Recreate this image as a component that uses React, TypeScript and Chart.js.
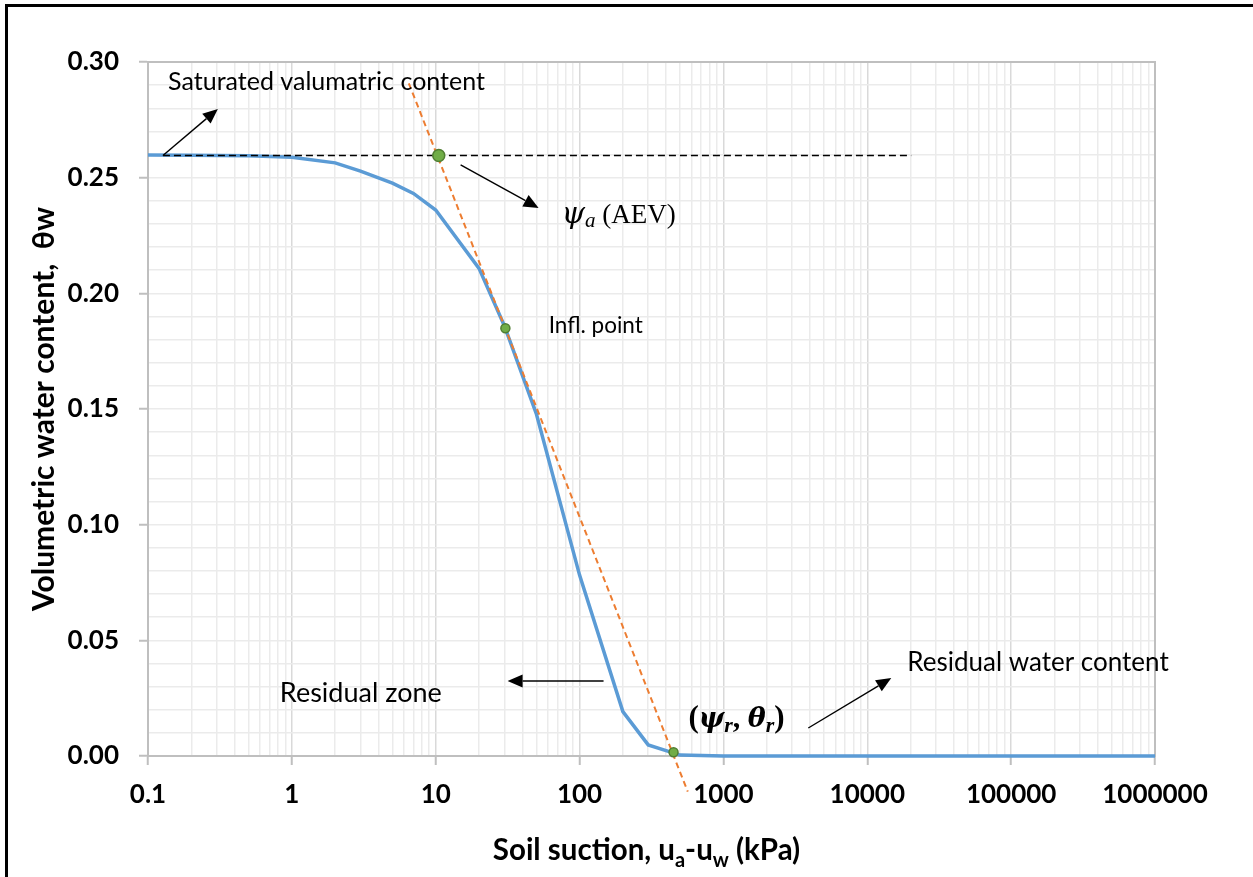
import React, { useEffect, useRef } from "react";
import { Chart, registerables } from "chart.js";

Chart.register(...registerables);

// ---------------- data ----------------
const suction = [0.1, 0.2, 0.5, 1, 2, 3, 5, 7, 10, 20, 30, 50, 100, 200, 300, 500, 1000, 10000, 100000, 1000000];
const waterContent = [0.2598, 0.2597, 0.2595, 0.2588, 0.2564, 0.2528, 0.2476, 0.2432, 0.236, 0.2108, 0.186, 0.148, 0.0782, 0.0192, 0.0048, 0.0004, 0, 0, 0, 0];

const tangentSuction = [6.5, 565];
const tangentWater = [0.2908, -0.0154];

const aevLineSuction = [0.127, 20200];
const aevLineWater = [0.2596, 0.2596];

const keyPointSuction = [10.5, 30.5, 450];
const keyPointWater = [0.2596, 0.1849, 0.0016];

const xMajorTicks = [0.1, 1, 10, 100, 1000, 10000, 100000, 1000000];
const xTickLabels = ["0.1", "1", "10", "100", "1000", "10000", "100000", "1000000"];
const yTickLabels = ["0.00", "0.05", "0.10", "0.15", "0.20", "0.25", "0.30"];

const xTitleParts = [
  { t: "Soil suction, u", sub: false },
  { t: "a", sub: true },
  { t: "-u", sub: false },
  { t: "w", sub: true },
  { t: " (kPa)", sub: false },
];
const yTitle = "Volumetric water content,  \u03B8w";

// ---------------- styles ----------------
const SANS = 'Lato, "Noto Sans", "DejaVu Sans", sans-serif';
const GREEK = '"DejaVu Serif", serif';
const SERIF = '"Liberation Serif", "DejaVu Serif", serif';

type Part = { t: string; font: string; dy?: number };
type Note = { parts: Part[]; x: number; y: number };
type Arrow = { x1: number; y1: number; x2: number; y2: number };

const notes: Note[] = [
  { parts: [{ t: "Saturated valumatric content", font: `25px ${SANS}` }], x: 0.138, y: 0.2879 },
  { parts: [{ t: "Infl. point", font: `22.5px ${SANS}` }], x: 61, y: 0.1829 },
  { parts: [{ t: "Residual zone", font: `27px ${SANS}` }], x: 0.825, y: 0.0235 },
  { parts: [{ t: "Residual water content", font: `26px ${SANS}` }], x: 18970, y: 0.0369 },
  {
    parts: [
      { t: "\u03C8", font: `italic 30px ${GREEK}` },
      { t: "a", font: `italic 21px ${SERIF}`, dy: 4 },
      { t: " (AEV)", font: `27px ${SERIF}` },
    ],
    x: 75,
    y: 0.2304,
  },
  {
    parts: [
      { t: "(", font: `bold 31px ${SERIF}` },
      { t: "\u03C8", font: `bold italic 27px ${GREEK}` },
      { t: "r", font: `bold italic 22px ${SERIF}`, dy: 5 },
      { t: ", ", font: `bold 30px ${SERIF}` },
      { t: "\u03B8", font: `bold italic 27px ${GREEK}` },
      { t: "r", font: `bold italic 22px ${SERIF}`, dy: 5 },
      { t: ")", font: `bold 31px ${SERIF}` },
    ],
    x: 571,
    y: 0.0125,
  },
];

const arrows: Arrow[] = [
  { x1: 0.127, y1: 0.2596, x2: 0.306, y2: 0.2797 },
  { x1: 14.9, y1: 0.2555, x2: 51.9, y2: 0.2369 },
  { x1: 146.8, y1: 0.0324, x2: 31.6, y2: 0.0324 },
  { x1: 3890, y1: 0.0121, x2: 14680, y2: 0.0337 },
];

// grid values
const xGridValues: number[] = [];
xMajorTicks.forEach((m, i) => {
  if (i === xMajorTicks.length - 1) {
    xGridValues.push(m);
    return;
  }
  for (let d = 1; d <= 9; d++) xGridValues.push(parseFloat((d * m).toPrecision(6)));
});
const yGridValues: number[] = [];
for (let k = 0; k <= 30; k++) yGridValues.push(k / 100);

const isDecade = (v: number) => Math.abs(Math.log10(v) - Math.round(Math.log10(v))) < 1e-9;
const isYMajor = (v: number) => Math.round(v * 100) % 5 === 0;

function drawParts(ctx: CanvasRenderingContext2D, parts: Part[], x: number, y: number, align: "left" | "center") {
  let total = 0;
  parts.forEach((p) => {
    ctx.font = p.font;
    total += ctx.measureText(p.t).width;
  });
  let cx = align === "center" ? x - total / 2 : x;
  ctx.textAlign = "left";
  ctx.textBaseline = "alphabetic";
  parts.forEach((p) => {
    ctx.font = p.font;
    ctx.fillText(p.t, cx, y + (p.dy || 0));
    cx += ctx.measureText(p.t).width;
  });
}

function drawArrow(ctx: CanvasRenderingContext2D, x1: number, y1: number, x2: number, y2: number) {
  const ang = Math.atan2(y2 - y1, x2 - x1);
  const head = 15;
  const half = 6.5;
  const bx = x2 - head * Math.cos(ang);
  const by = y2 - head * Math.sin(ang);
  ctx.strokeStyle = "#000";
  ctx.lineWidth = 1.4;
  ctx.setLineDash([]);
  ctx.beginPath();
  ctx.moveTo(x1, y1);
  ctx.lineTo(bx, by);
  ctx.stroke();
  ctx.fillStyle = "#000";
  ctx.beginPath();
  ctx.moveTo(x2, y2);
  ctx.lineTo(bx + half * Math.sin(ang), by - half * Math.cos(ang));
  ctx.lineTo(bx - half * Math.sin(ang), by + half * Math.cos(ang));
  ctx.closePath();
  ctx.fill();
}

const overlayPlugin = {
  id: "overlay",
  beforeDatasetsDraw(chart: any) {
    const { ctx, chartArea: a } = chart;
    ctx.save();
    ctx.strokeStyle = "#bfbfbf";
    ctx.lineWidth = 2;
    ctx.setLineDash([]);
    ctx.strokeRect(a.left, a.top, a.right - a.left, a.bottom - a.top);
    ctx.restore();
  },
  afterDraw(chart: any) {
    const { ctx, chartArea: a } = chart;
    const xs = chart.scales.x;
    const ys = chart.scales.y;
    ctx.save();
    ctx.setLineDash([]);

    // arrows
    arrows.forEach((ar) => {
      drawArrow(ctx, xs.getPixelForValue(ar.x1), ys.getPixelForValue(ar.y1), xs.getPixelForValue(ar.x2), ys.getPixelForValue(ar.y2));
    });
    // notes
    ctx.fillStyle = "#000";
    notes.forEach((n) => {
      drawParts(ctx, n.parts, xs.getPixelForValue(n.x), ys.getPixelForValue(n.y), "left");
    });

    // x title
    const xParts: Part[] = xTitleParts.map((p) => ({
      t: p.t,
      font: p.sub ? `bold 20px ${SANS}` : `bold 29.5px ${SANS}`,
      dy: p.sub ? 7 : 0,
    }));
    drawParts(ctx, xParts, (a.left + a.right) / 2 - 5, 860, "center");

    // y title
    ctx.save();
    ctx.translate(54, (a.top + a.bottom) / 2);
    ctx.rotate(-Math.PI / 2);
    ctx.font = `bold 30px ${SANS}`;
    ctx.textAlign = "center";
    ctx.textBaseline = "alphabetic";
    ctx.fillText(yTitle, 0, 0);
    ctx.restore();

    // white margin outside the frame, then the frame (top & left)
    ctx.fillStyle = "#fff";
    ctx.fillRect(0, 0, chart.width, 4);
    ctx.fillRect(0, 0, 5, chart.height);
    ctx.fillStyle = "#000";
    ctx.fillRect(5, 4, chart.width, 3);
    ctx.fillRect(5, 4, 3, chart.height);
    ctx.restore();
  },
};

export default function App() {
  const ref = useRef<HTMLCanvasElement>(null);
  useEffect(() => {
    document.body.style.margin = "0";
    const canvas = ref.current!;
    const chart = new Chart(canvas, {
      type: "scatter",
      data: {
        datasets: [
          {
            label: "Key points",
            data: keyPointSuction.map((x, i) => ({ x, y: keyPointWater[i] })),
            showLine: false,
            pointRadius: [6, 4.5, 4.5],
            pointBackgroundColor: "#70ad47",
            pointBorderColor: "#507e32",
            pointBorderWidth: 1.5,
            clip: 10,
          },
          {
            label: "AEV line",
            data: aevLineSuction.map((x, i) => ({ x, y: aevLineWater[i] })),
            showLine: true,
            borderColor: "#000",
            borderWidth: 1.5,
            borderDash: [7, 4],
            pointRadius: 0,
          },
          {
            label: "Tangent",
            data: tangentSuction.map((x, i) => ({ x, y: tangentWater[i] })),
            showLine: true,
            borderColor: "#ed7d31",
            borderWidth: 2,
            borderDash: [6, 4],
            pointRadius: 0,
            clip: { left: 0, top: 0, right: 0, bottom: 40 },
          },
          {
            label: "SWCC",
            data: suction.map((x, i) => ({ x, y: waterContent[i] })),
            showLine: true,
            borderColor: "#5b9bd5",
            borderWidth: 3.5,
            pointRadius: 0,
            clip: 5,
          },
        ],
      } as any,
      options: {
        responsive: false,
        animation: false,
        events: [],
        layout: { padding: { left: 0, top: 62, right: 98, bottom: 0 } },
        plugins: { legend: { display: false }, tooltip: { enabled: false }, title: { display: false } },
        scales: {
          x: {
            type: "logarithmic",
            min: 0.1,
            max: 1000000,
            afterBuildTicks: (s: any) => {
              s.ticks = xGridValues.map((v) => ({ value: v }));
            },
            afterFit: (s: any) => {
              s.height = 121;
            },
            grid: {
              color: (c: any) => (c.tick && isDecade(c.tick.value) ? "#d9d9d9" : "#ebebeb"),
              lineWidth: 1.5,
              tickColor: (c: any) => (c.tick && isDecade(c.tick.value) ? "#bfbfbf" : "rgba(0,0,0,0)"),
              tickLength: 9,
              tickWidth: 2,
            },
            border: { color: "#bfbfbf", width: 2 },
            ticks: {
              autoSkip: false,
              maxRotation: 0,
              padding: 14,
              color: "#000",
              font: { family: SANS, size: 26, weight: "bold" },
              callback: (v: any) => (isDecade(Number(v)) ? xTickLabels[Math.round(Math.log10(Number(v))) + 1] : ""),
            },
          },
          y: {
            type: "linear",
            min: 0,
            max: 0.3,
            afterBuildTicks: (s: any) => {
              s.ticks = yGridValues.map((v) => ({ value: v }));
            },
            afterFit: (s: any) => {
              s.width = 148;
            },
            grid: {
              color: "#ebebeb",
              lineWidth: 1.5,
              tickColor: (c: any) => (c.tick && isYMajor(c.tick.value) ? "#bfbfbf" : "rgba(0,0,0,0)"),
              tickLength: 9,
              tickWidth: 2,
            },
            border: { color: "#bfbfbf", width: 2 },
            ticks: {
              autoSkip: false,
              padding: 20,
              color: "#000",
              font: { family: SANS, size: 26, weight: "bold" },
              callback: (v: any) => {
                const k = Math.round(Number(v) * 100);
                return k % 5 === 0 ? yTickLabels[k / 5] : "";
              },
            },
          },
        },
      } as any,
      plugins: [overlayPlugin],
    });
    return () => chart.destroy();
  }, []);
  return (
    <div style={{ position: "fixed", left: 0, top: 0, width: 1253, height: 877, overflow: "hidden", background: "#fff" }}>
      <canvas ref={ref} width={1253} height={877} style={{ display: "block" }} />
    </div>
  );
}
